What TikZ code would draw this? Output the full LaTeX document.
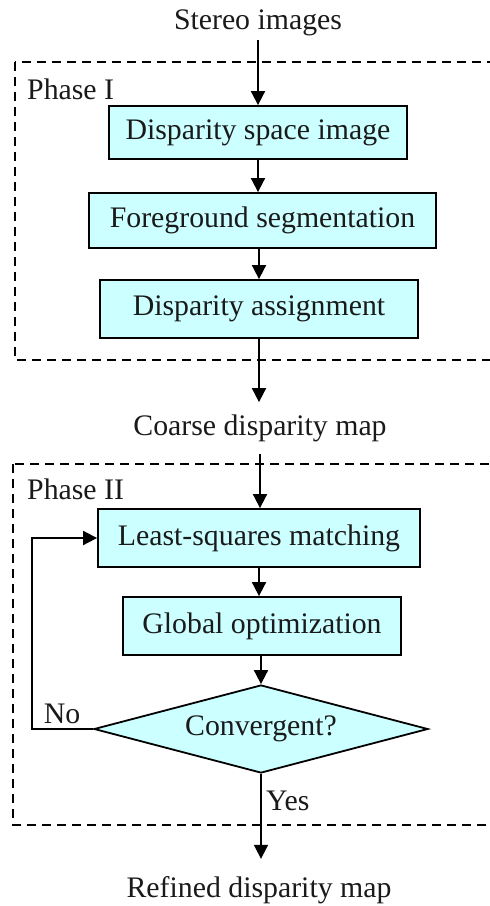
\documentclass[tikz,border=0pt]{standalone}
\usepackage{fontspec}
\setmainfont{Liberation Serif}
\usetikzlibrary{arrows.meta,shapes.geometric}
\definecolor{boxfill}{HTML}{CCFFFF}
\definecolor{inkc}{HTML}{1A1A1A}
\begin{document}
\begin{tikzpicture}[x=1pt,y=-1pt,
  font=\fontsize{29.8}{34}\selectfont,
  every node/.style={text=inkc},
  procbox/.style={draw=black,fill=boxfill,line width=1.8pt,inner sep=0pt,minimum height=55pt},
  decbox/.style={diamond,draw=black,fill=boxfill,line width=1.8pt,inner sep=0pt,shape aspect=3.8,minimum width=334pt,minimum height=88pt},
  flow/.style={draw=black,line width=1.8pt,-{Triangle[length=14pt,width=14pt]}},
  phase/.style={draw=black,line width=1.6pt,dash pattern=on 9pt off 6pt},
  plain/.style={inner sep=0pt}
]
\clip (0,0) rectangle (490,906);
\fill[white] (0,0) rectangle (490,906);

% phase frames
\draw[phase] (15,62) rectangle (505,360);
\draw[phase] (13,464) rectangle (505,825);
\node[plain,anchor=base west] (p1) at (27,99) {Phase I};
\node[plain,anchor=base west] (p2) at (27,499) {Phase II};

% nodes
\node[anchor=base,inner sep=4.5pt] (stereo) at (258,29) {Stereo images};
\node[procbox,minimum width=298pt,minimum height=53pt] (b1) at (258,132.5) {Disparity space image};
\node[procbox,minimum width=347pt] (b2) at (262.5,220.5) {Foreground segmentation};
\node[procbox,minimum width=318pt,minimum height=58pt] (b3) at (259,309) {Disparity assignment};
\node[anchor=base,inner sep=12pt] (coarse) at (260,435) {Coarse disparity map};
\node[procbox,minimum width=322pt,minimum height=58pt] (b4) at (259,538) {Least-squares matching};
\node[procbox,minimum width=278pt,minimum height=58pt] (b5) at (262,626) {Global optimization};
\node[decbox] (dec) at (261,729) {Convergent?};
\node[anchor=base,inner sep=17pt] (refined) at (259,897) {Refined disparity map};
\coordinate (back) at (32,729);
\node[plain,anchor=base] (no) at (62,723) {No};
\node[plain,anchor=base west] (yes) at (266,810) {Yes};

% connectors
\draw[flow] (stereo.south) -- (b1.north);
\draw[flow] (b1.south) -- (b1.south |- b2.north);
\draw[flow] (b2.south -| b3.north) -- (b3.north);
\draw[flow] (b3.south) -- (b3.south |- coarse.north);
\draw[flow] (coarse.south) -- (coarse.south |- b4.north);
\draw[flow] (b4.south) -- (b4.south |- b5.north);
\draw[flow] (b5.south -| dec.north) -- (dec.north);
\draw[flow] (dec.south) -- (dec.south |- refined.north);
\draw[flow] (dec.west) -- (back) |- (b4.west);
\end{tikzpicture}
\end{document}
